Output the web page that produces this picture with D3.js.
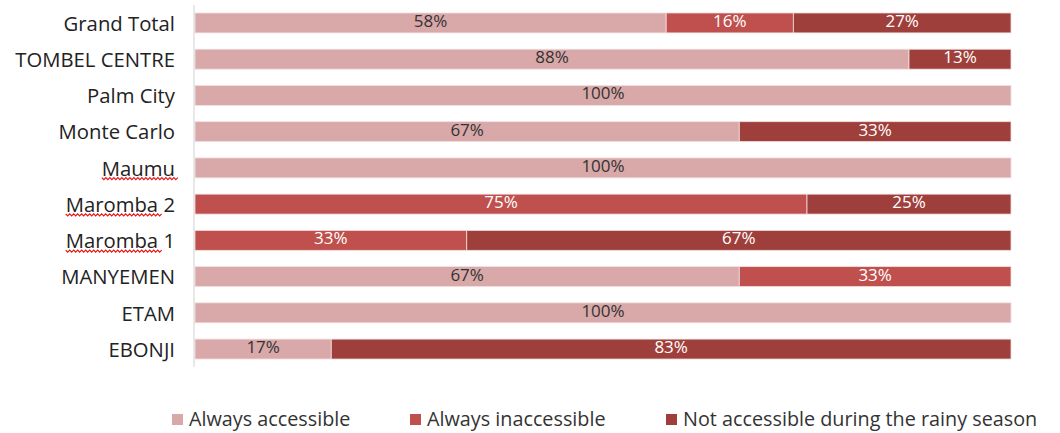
<!DOCTYPE html>
<html>
<head>
<meta charset="utf-8">
<script src="https://cdn.jsdelivr.net/npm/d3@7/dist/d3.min.js"></script>
<style>
  html, body { margin: 0; padding: 0; background: #fff; }
  svg text { font-family: "Open Sans", Lato, sans-serif; }
</style>
</head>
<body>
<svg id="chart" width="1060" height="433"></svg>
<script>
// Villages, listed top to bottom
const categories = ["Grand Total", "TOMBEL CENTRE", "Palm City", "Monte Carlo", "Maumu",
  "Maromba 2", "Maromba 1", "MANYEMEN", "ETAM", "EBONJI"];
const seriesNames = ["Always accessible", "Always inaccessible", "Not accessible during the rainy season"];
// Percent of respondents per village for each accessibility class
const alwaysAccessible   = [57.8, 87.5, 100, 66.7, 100, 0, 0, 66.7, 100, 16.7];
const alwaysInaccessible = [15.6, 0, 0, 0, 0, 75, 33.3, 33.3, 0, 0];
const notRainySeason     = [26.7, 12.5, 0, 33.3, 0, 25, 66.7, 0, 0, 83.3];
const colors = ["#d9a8a8", "#c0504d", "#9f3f3b"];
const labelColors = ["#333333", "#ffffff", "#ffffff"];
// Words flagged by the spell checker in the category labels
const flaggedWords = { "Maumu": "Maumu", "Maromba 2": "Maromba", "Maromba 1": "Maromba" };

const svg = d3.select("#chart");
const margin = { left: 195, right: 49, top: 5, bottom: 66 };
const W = 1060, H = 433;

const rows = categories.map((c, i) => {
  const vals = [alwaysAccessible[i], alwaysInaccessible[i], notRainySeason[i]];
  const total = d3.sum(vals);
  let acc = 0;
  const segs = vals.map((v, k) => {
    const s = { cat: c, k, v, x0: acc / total, x1: (acc + v) / total };
    acc += v;
    return s;
  });
  return { cat: c, segs };
});

const x = d3.scaleLinear().domain([0, 1]).range([margin.left, W - margin.right]);
const y = d3.scaleBand().domain(categories).range([margin.top, H - margin.bottom]).paddingInner(0.45).paddingOuter(0.22);

// Bars
const g = svg.append("g");
const rowG = g.selectAll("g.row").data(rows).join("g").attr("class", "row");
rowG.selectAll("rect").data(d => d.segs.filter(s => s.v > 0)).join("rect")
  .attr("x", s => x(s.x0))
  .attr("y", s => y(s.cat))
  .attr("width", s => x(s.x1) - x(s.x0))
  .attr("height", y.bandwidth())
  .attr("fill", s => colors[s.k])
  .attr("stroke", "#f3dede")
  .attr("stroke-width", 0.8);

// Value labels
rowG.selectAll("text").data(d => d.segs.filter(s => s.v > 0)).join("text")
  .attr("x", s => (x(s.x0) + x(s.x1)) / 2)
  .attr("y", s => y(s.cat) + y.bandwidth() / 2 + 4)
  .attr("text-anchor", "middle")
  .attr("font-size", 17)
  .attr("fill", s => labelColors[s.k])
  .text(s => Math.round(s.v) + "%");

// Category axis
const axis = svg.append("g").attr("transform", `translate(${margin.left - 1},0)`)
  .call(d3.axisLeft(y).tickSize(0).tickPadding(19));
axis.select(".domain").attr("stroke", "#d9d9d9").attr("stroke-width", 1.2)
  .attr("d", `M0,${margin.top}V${H - margin.bottom}`);
axis.selectAll(".tick text")
  .attr("font-size", 20.3)
  .attr("fill", "#222")
  .attr("font-family", "'Open Sans', Lato, sans-serif")
  .attr("dy", "0.38em");

// Red wavy underlines under flagged words
axis.selectAll(".tick").each(function(cat) {
  const word = flaggedWords[cat];
  if (!word) return;
  const t = d3.select(this).select("text").node();
  const bb = t.getBBox();
  const wl = t.getSubStringLength(0, word.length);
  const x0 = bb.x, yy = bb.y + bb.height - 4;
  let dPath = `M${x0},${yy}`;
  for (let xx = x0; xx < x0 + wl; xx += 4) {
    dPath += ` l2,2 l2,-2`;
  }
  d3.select(this).append("path").attr("d", dPath)
    .attr("fill", "none").attr("stroke", "#e81818").attr("stroke-width", 1.2);
});

// Legend
const legendX = [172, 410, 666];
const lg = svg.append("g").selectAll("g").data(seriesNames).join("g")
  .attr("transform", (d, i) => `translate(${legendX[i]},413)`);
lg.append("rect").attr("width", 11).attr("height", 11).attr("y", 1)
  .attr("fill", (d, i) => colors[i]);
lg.append("text").attr("x", 17).attr("y", 13)
  .attr("font-size", 19.8).attr("fill", "#333").text(d => d);
</script>
</body>
</html>
